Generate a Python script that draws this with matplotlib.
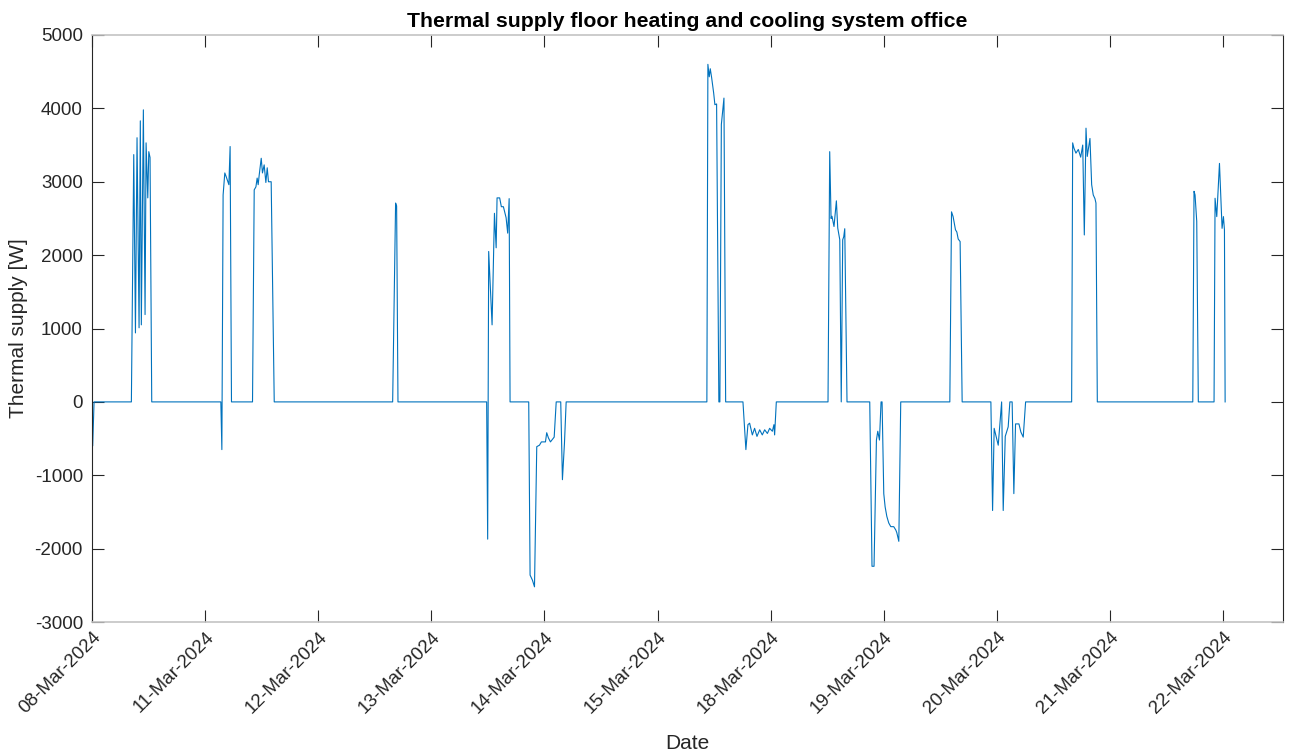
import numpy as np
import matplotlib
matplotlib.use("Agg")
import matplotlib.pyplot as plt

# Working days shown on the axis (weekend removed, one unit per day)
day_labels = ["08-Mar-2024", "11-Mar-2024", "12-Mar-2024", "13-Mar-2024",
              "14-Mar-2024", "15-Mar-2024", "18-Mar-2024", "19-Mar-2024",
              "20-Mar-2024", "21-Mar-2024", "22-Mar-2024"]

# Time in working days since the start of 08-Mar
t_day = [0.000, 0.006, 0.018, 0.348, 0.369, 0.384, 0.398, 0.416, 0.427, 0.436,
         0.454, 0.469, 0.478, 0.493, 0.502, 0.513, 0.528,
         1.139, 1.148, 1.159, 1.174, 1.186, 1.210, 1.221, 1.233,
         1.419, 1.434, 1.449, 1.460, 1.469, 1.478, 1.496, 1.507, 1.522, 1.537,
         1.549, 1.560, 1.584, 1.611,
         2.658, 2.684, 2.693, 2.705,
         3.489, 3.498, 3.507, 3.537, 3.558, 3.573, 3.581, 3.604, 3.619, 3.637,
         3.661, 3.675, 3.688, 3.696,
         3.861, 3.873, 3.894, 3.912, 3.932, 3.956, 3.973, 4.009, 4.020, 4.035,
         4.053, 4.086, 4.104, 4.144, 4.159, 4.177, 4.192,
         5.436, 5.445, 5.457, 5.466, 5.478, 5.496, 5.507, 5.522, 5.542, 5.551,
         5.564, 5.587, 5.602,
         5.755, 5.781, 5.799, 5.814, 5.838, 5.858, 5.879, 5.903, 5.926, 5.947,
         5.971, 5.991, 6.015, 6.029, 6.035, 6.050,
         6.507, 6.522, 6.534, 6.542, 6.560, 6.581, 6.593, 6.611, 6.624, 6.637,
         6.646, 6.655, 6.675,
         6.876, 6.896, 6.914, 6.935, 6.947, 6.962, 6.976, 6.985, 7.000, 7.012,
         7.027, 7.044, 7.062, 7.088, 7.106, 7.115, 7.133, 7.150,
         7.584, 7.599, 7.613, 7.634, 7.646, 7.658, 7.675, 7.693,
         7.947, 7.962, 7.976, 8.012, 8.042, 8.056, 8.074, 8.100, 8.115, 8.135,
         8.150, 8.165, 8.195, 8.212, 8.233, 8.254,
         8.661, 8.670, 8.681, 8.699, 8.720, 8.741, 8.759, 8.773, 8.788, 8.799,
         8.812, 8.823, 8.838, 8.852, 8.867, 8.876, 8.888,
         9.732, 9.743, 9.752, 9.767, 9.781,
         9.920, 9.929, 9.944, 9.968, 9.991, 10.003, 10.012, 10.018]

# Thermal supply [W]
supply = [0, -600, 0, 0, 3370, 940, 3600, 1010, 3830, 1050,
          3980, 1190, 3530, 2780, 3410, 3330, 0,
          0, -650, 2820, 3120, 3070, 2960, 3480, 0,
          0, 2890, 2930, 3050, 2960, 3090, 3320, 3120, 3230, 2990,
          3190, 3000, 3000, 0,
          0, 2710, 2670, 0,
          0, -1870, 2050, 1050, 2570, 2100, 2780, 2780, 2660, 2660,
          2510, 2300, 2770, 0,
          0, -2360, -2430, -2520, -610, -590, -545, -545, -420, -490,
          -545, -480, 0, 0, -1060, -560, 0,
          0, 4600, 4430, 4540, 4420, 4210, 4050, 4060, 0, 0,
          3780, 4140, 0,
          0, -650, -310, -290, -450, -360, -470, -380, -450, -380,
          -430, -360, -400, -310, -450, 0,
          0, 3410, 2500, 2530, 2390, 2740, 2370, 2210, 0, 2210,
          2250, 2360, 0,
          0, -2240, -2240, -520, -400, -520, 0, 0, -1250, -1430,
          -1560, -1650, -1700, -1700, -1745, -1780, -1900, 0,
          0, 2590, 2525, 2345, 2315, 2220, 2185, 0,
          0, -1480, -360, -590, 0, -1480, -470, -340, 0, 0,
          -1250, -300, -300, -410, -480, 0,
          0, 3530, 3460, 3390, 3440, 3335, 3500, 2275, 3730, 3345,
          3480, 3590, 2960, 2820, 2770, 2710, 0,
          0, 2870, 2820, 2460, 0,
          0, 2775, 2525, 3250, 2365, 2525, 2345, 0]

plt.rcParams['font.family'] = ['Liberation Sans', 'DejaVu Sans']
plt.rcParams['axes.unicode_minus'] = False

fig = plt.figure(figsize=(12.96, 7.54), dpi=100)
ax = fig.add_axes([0.071, 0.175, 0.919, 0.7786])

ax.plot(np.array(t_day), np.array(supply), color="#0072BD", linewidth=0.8)

ax.set_xlim(0, 10.53)
ax.set_ylim(-3000, 5000)
ax.set_yticks(np.arange(-3000, 5001, 1000))
ax.set_xticks(np.arange(len(day_labels)))
ax.set_xticklabels(day_labels, rotation=45, ha="right", rotation_mode="anchor")

ax.tick_params(direction="in", length=8.5, width=0.8, colors="#262626",
               labelsize=13.5, top=True, right=True)
ax.tick_params(axis="y", pad=6.5)
ax.tick_params(axis="x", pad=5)
for side in ["left", "right"]:
    ax.spines[side].set_color("#262626")
    ax.spines[side].set_linewidth(0.8)
for side in ["top", "bottom"]:
    ax.spines[side].set_color("#c4c4c4")
    ax.spines[side].set_linewidth(1.2)

ax.set_title("Thermal supply floor heating and cooling system office",
             fontsize=15.3, fontweight="bold", pad=6)
ax.set_ylabel("Thermal supply [W]", fontsize=15, color="#262626", labelpad=5)
ax.set_xlabel("Date", fontsize=15, color="#262626", labelpad=12)

fig.savefig("out.png", dpi=100)
plt.close(fig)
